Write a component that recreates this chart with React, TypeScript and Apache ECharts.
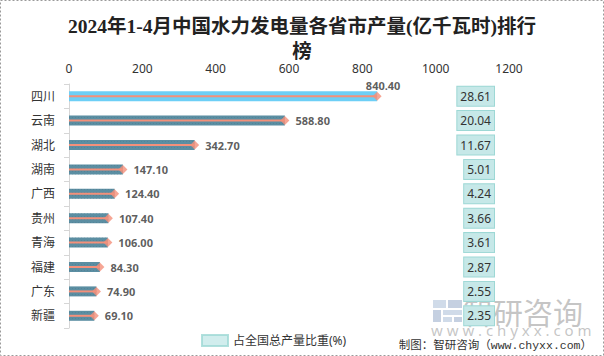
import React, { useEffect, useRef } from "react";
import * as echarts from "echarts";

const provinces = ["四川", "云南", "湖北", "湖南", "广西", "贵州", "青海", "福建", "广东", "新疆"];
const output = [840.4, 588.8, 342.7, 147.1, 124.4, 107.4, 106.0, 84.3, 74.9, 69.1];
const share = [28.61, 20.04, 11.67, 5.01, 4.24, 3.66, 3.61, 2.87, 2.55, 2.35];
const xMin = 0;
const xMax = 1200;
const xInterval = 200;
const titleText = "2024年1-4月中国水力发电量各省市产量(亿千瓦时)排行\n榜";
const shareName = "占全国总产量比重(%)";
const footerText = "制图：智研咨询（www.chyxx.com）";

const SANS = "'Noto Sans', 'Noto Sans CJK SC', sans-serif";

export default function App() {
  const ref = useRef<HTMLDivElement>(null);
  useEffect(() => {
    if (!ref.current) return;
    const chart = echarts.init(ref.current, null, { renderer: "svg" });
    const option: any = {
      animation: false,
      backgroundColor: "#ffffff",
      title: {
        text: titleText,
        left: "center",
        top: 9,
        textStyle: {
          fontSize: 19.5,
          fontWeight: "bold",
          fontFamily: "'Liberation Serif', 'Noto Sans CJK SC', serif",
          color: "#222222",
          lineHeight: 25,
        },
      },
      legend: {
        left: 196,
        top: 329,
        itemWidth: 26,
        itemHeight: 11,
        icon: "rect",
        data: [shareName],
        textStyle: { fontSize: 12, color: "#333333", fontFamily: SANS },
      },
      grid: { left: 69, right: 95, top: 84, bottom: 28, containLabel: false },
      xAxis: {
        type: "value",
        position: "top",
        min: xMin,
        max: xMax,
        interval: xInterval,
        axisLine: { show: false },
        axisTick: { show: false },
        splitLine: { show: false },
        axisLabel: {
          fontSize: 12,
          color: "#333333",
          margin: 10,
          fontFamily: SANS,
          formatter: (v: number) => String(v),
        },
      },
      yAxis: [
        {
          type: "category",
          data: provinces,
          inverse: true,
          axisLine: { show: true, lineStyle: { color: "#d6d6d6", width: 1 } },
          axisTick: { show: true, length: 5, lineStyle: { color: "#d6d6d6" } },
          axisLabel: { fontSize: 12, color: "#333333", margin: 14, fontFamily: SANS },
        },
        {
          type: "category",
          data: share.map((v) => v.toFixed(2)),
          inverse: true,
          position: "right",
          axisLine: { show: false },
          axisTick: { show: false },
          axisLabel: {
            align: "right",
            margin: -15,
            fontSize: 12,
            color: "#333333",
            fontFamily: SANS,
            lineHeight: 14,
            backgroundColor: "#C6E8E8",
            borderColor: "#9DD8D5",
            borderWidth: 1,
            padding: [3, 3, 2, 3],
          },
        },
      ],
      series: [
        {
          name: "产量",
          type: "bar",
          barWidth: 10,
          itemStyle: {
            color: "#5B8EA2",
            decal: {
              symbol: "rect",
              symbolSize: 1,
              dashArrayX: [1, 2],
              dashArrayY: [1, 2],
              color: "rgba(70,115,135,0.35)",
              rotation: 0,
            },
          },
          data: output.map((v, i) =>
            i === 0
              ? { value: v, itemStyle: { color: "#6DCFF6", decal: { symbol: "none" } } }
              : v
          ),
        },
        {
          name: "线",
          type: "pictorialBar",
          symbol: "rect",
          symbolSize: ["100%", 2],
          symbolPosition: "start",
          silent: true,
          itemStyle: { color: "#F4907A" },
          data: output,
          z: 3,
        },
        {
          name: "点",
          type: "scatter",
          symbol: "diamond",
          symbolSize: [9, 9],
          itemStyle: { color: "#F4907A" },
          z: 4,
          data: output.map((v, i) => ({
            value: [v, provinces[i]],
            label:
              i === 0
                ? { position: "top", distance: 1, offset: [6, 0] }
                : undefined,
          })),
          label: {
            show: true,
            position: "right",
            distance: 6,
            fontSize: 11,
            fontWeight: "bold",
            color: "#333333",
            fontFamily: SANS,
            formatter: (p: any) => Number(p.value[0]).toFixed(2),
          },
        },
        {
          name: shareName,
          type: "scatter",
          data: [],
          itemStyle: { color: "#C6E8E8", borderColor: "#9DD8D5", borderWidth: 1 },
        },
      ],
      graphic: [
        {
          type: "rect",
          silent: true,
          shape: { x: 0.5, y: 0.5, width: 603, height: 355 },
          style: { fill: "none", stroke: "#9a9a9a", lineWidth: 1, lineDash: [2, 2] },
        },
        {
          type: "group",
          silent: true,
          z: 100,
          children: [
            { type: "rect", shape: { x: 433, y: 300, width: 13, height: 8 }, style: { fill: "rgba(170,190,215,0.55)" } },
            { type: "rect", shape: { x: 448, y: 300, width: 14, height: 8 }, style: { fill: "rgba(150,170,200,0.55)" } },
            { type: "rect", shape: { x: 433, y: 310, width: 8, height: 12 }, style: { fill: "rgba(150,170,200,0.55)" } },
            { type: "rect", shape: { x: 443, y: 310, width: 19, height: 5 }, style: { fill: "rgba(170,190,215,0.55)" } },
            { type: "rect", shape: { x: 443, y: 317, width: 9, height: 5 }, style: { fill: "rgba(170,190,215,0.55)" } },
            { type: "rect", shape: { x: 454, y: 317, width: 8, height: 5 }, style: { fill: "rgba(150,170,200,0.55)" } },
            {
              type: "text",
              x: 463,
              y: 311,
              style: {
                text: "智研咨询",
                font: "30px 'Noto Sans CJK SC', sans-serif",
                fill: "rgba(140,140,140,0.5)",
                align: "left",
                verticalAlign: "middle",
                textAlign: "left",
                textVerticalAlign: "middle",
              },
            },
            {
              type: "text",
              x: 431,
              y: 330,
              style: {
                text: "w w w . c h y x x . c o m",
                font: "15px 'Noto Sans', sans-serif",
                fill: "rgba(140,140,140,0.5)",
                align: "left",
                verticalAlign: "middle",
                textAlign: "left",
                textVerticalAlign: "middle",
              },
            },
          ],
        },
        {
          type: "text",
          silent: true,
          x: 592,
          y: 345,
          z: 101,
          style: {
            text: footerText,
            font: "11.5px 'Liberation Mono', 'Noto Sans CJK SC', monospace",
            fill: "#333333",
            align: "right",
            verticalAlign: "middle",
            textAlign: "right",
            textVerticalAlign: "middle",
          },
        },
      ],
    };
    chart.setOption(option);
    return () => chart.dispose();
  }, []);
  return (
    <div
      ref={ref}
      style={{ position: "fixed", left: 0, top: 0, width: 604, height: 356 }}
    />
  );
}
